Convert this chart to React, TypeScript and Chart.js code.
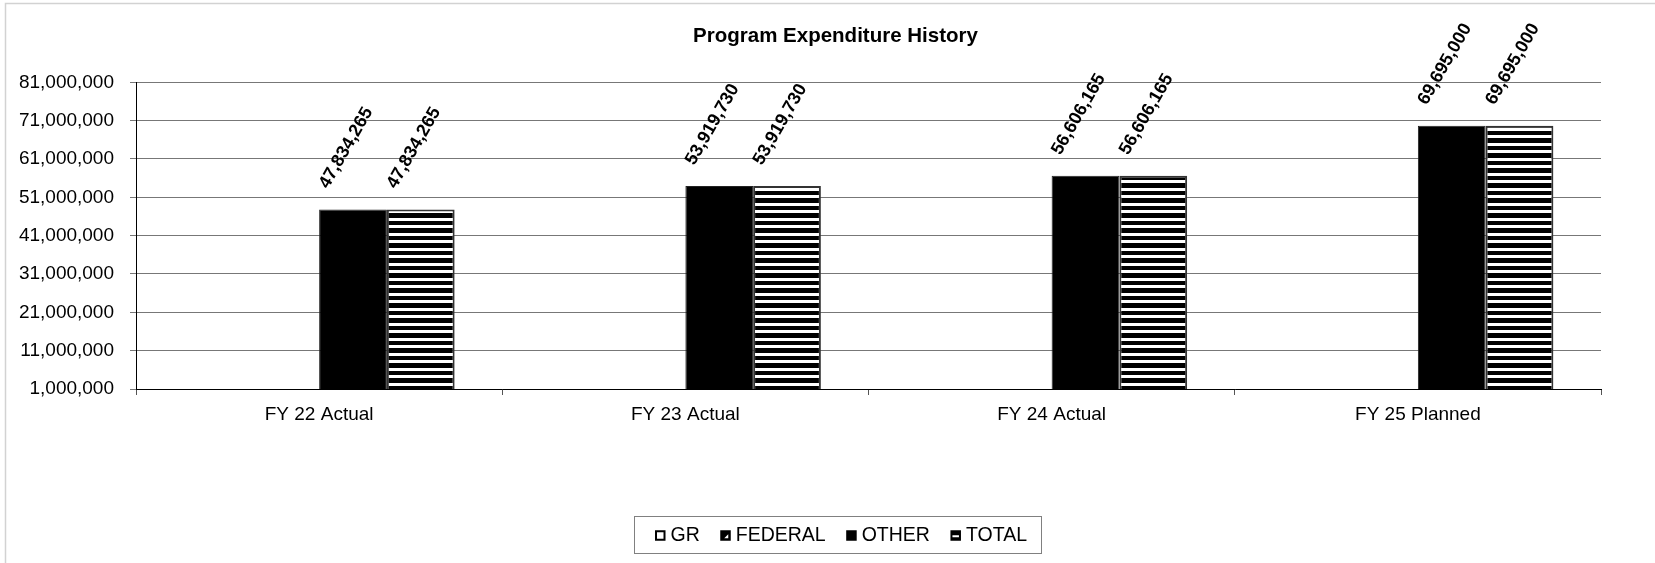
import React, { useEffect, useRef } from 'react';
import { Chart, registerables } from 'chart.js';

Chart.register(...registerables);

// ---- data ----
const categories = ['FY 22 Actual', 'FY 23 Actual', 'FY 24 Actual', 'FY 25 Planned'];
const seriesNames = ['GR', 'FEDERAL', 'OTHER', 'TOTAL'];
const grValues: (number | null)[] = [null, null, null, null];
const federalValues: (number | null)[] = [null, null, null, null];
const otherValues = [47834265, 53919730, 56606165, 69695000];
const totalValues = [47834265, 53919730, 56606165, 69695000];
const yMin = 1000000;
const yMax = 81000000;
const yStep = 10000000;
const chartTitle = 'Program Expenditure History';

const FONT = '"Liberation Sans", Arial, Helvetica, sans-serif';

function makeStripePattern(): CanvasPattern | string {
  const c = document.createElement('canvas');
  c.width = 8;
  c.height = 15;
  const g = c.getContext('2d');
  if (!g) return '#000';
  g.fillStyle = '#000';
  g.fillRect(0, 0, 8, 15);
  g.fillStyle = '#fff';
  g.fillRect(0, 0, 8, 3);
  g.fillRect(0, 8, 8, 3);
  return g.createPattern(c, 'repeat') || '#000';
}

function makeDiagPattern(): CanvasPattern | string {
  const c = document.createElement('canvas');
  c.width = 8;
  c.height = 8;
  const g = c.getContext('2d');
  if (!g) return '#000';
  g.fillStyle = '#000';
  g.fillRect(0, 0, 8, 8);
  g.strokeStyle = '#fff';
  g.lineWidth = 2;
  g.beginPath();
  g.moveTo(0, 8);
  g.lineTo(8, 0);
  g.stroke();
  return g.createPattern(c, 'repeat') || '#000';
}

const fmt = (v: number) => Number(v).toLocaleString('en-US');

const framePlugin = {
  id: 'frame',
  beforeDraw(chart: any) {
    const ctx = chart.ctx as CanvasRenderingContext2D;
    ctx.save();
    ctx.strokeStyle = '#d2d2d2';
    ctx.lineWidth = 1.5;
    ctx.beginPath();
    ctx.moveTo(5.5, chart.height + 2);
    ctx.lineTo(5.5, 3.5);
    ctx.lineTo(chart.width + 2, 3.5);
    ctx.stroke();
    ctx.restore();
  },
};

// shift the title so it is centred where the reference has it
const titleShiftPlugin = {
  id: 'titleShift',
  afterLayout(chart: any) {
    const t = chart.titleBlock;
    if (t) {
      t.left += 32;
      t.right += 32;
    }
  },
};

const valueLabelPlugin = {
  id: 'valueLabels',
  afterDatasetsDraw(chart: any) {
    const ctx = chart.ctx as CanvasRenderingContext2D;
    ctx.save();
    ctx.font = `bold 18px ${FONT}`;
    ctx.fillStyle = '#000';
    ctx.textAlign = 'left';
    ctx.textBaseline = 'alphabetic';
    chart.data.datasets.forEach((ds: any, di: number) => {
      const meta = chart.getDatasetMeta(di);
      meta.data.forEach((el: any, i: number) => {
        const v = ds.data[i];
        if (v === null || v === undefined) return;
        ctx.save();
        ctx.translate(el.x - 25, el.y - 20);
        ctx.rotate((-60 * Math.PI) / 180);
        ctx.fillText(fmt(v), 0, 0);
        ctx.restore();
      });
    });
    ctx.restore();
  },
};

const boxLegendPlugin = {
  id: 'boxLegend',
  afterDraw(chart: any) {
    const ctx = chart.ctx as CanvasRenderingContext2D;
    ctx.save();
    const boxCx = 837.5;
    const boxW = 407;
    const boxTop = 516;
    const boxH = 37;
    ctx.strokeStyle = '#808080';
    ctx.lineWidth = 1;
    ctx.strokeRect(Math.round(boxCx - boxW / 2) + 0.5, boxTop + 0.5, boxW, boxH);

    ctx.font = `19.5px ${FONT}`;
    ctx.fillStyle = '#000';
    ctx.textBaseline = 'middle';
    ctx.textAlign = 'left';
    const sq = 10.5;
    const gap = 5;
    const itemGap = 20.5;
    const labels: string[] = chart.data.datasets.map((d: any) => d.label);
    const widths = labels.map((l) => ctx.measureText(l).width);
    let total = 0;
    widths.forEach((w, i) => {
      total += sq + gap + w + (i < widths.length - 1 ? itemGap : 0);
    });
    let x = boxCx + 3.5 - total / 2;
    const cy = 535.5;
    const top = cy - sq / 2;
    labels.forEach((label, i) => {
      ctx.fillStyle = '#000';
      ctx.fillRect(x, top, sq, sq);
      if (i === 0) {
        ctx.fillStyle = '#fff';
        ctx.fillRect(x + 2, top + 2, sq - 4, sq - 4);
      } else if (i === 1) {
        ctx.fillStyle = '#fff';
        ctx.beginPath();
        ctx.moveTo(x + sq - 2.5, top + 4);
        ctx.lineTo(x + sq - 2.5, top + sq - 2.5);
        ctx.lineTo(x + 4, top + sq - 2.5);
        ctx.closePath();
        ctx.fill();
      } else if (i === 3) {
        ctx.fillStyle = '#fff';
        ctx.fillRect(x + 2, top + 5, sq - 4, 2);
      }
      ctx.fillStyle = '#000';
      ctx.fillText(label, x + sq + gap, cy);
      x += sq + gap + widths[i] + itemGap;
    });
    ctx.restore();
  },
};

export default function App() {
  const ref = useRef<HTMLCanvasElement>(null);

  useEffect(() => {
    if (!ref.current) return;
    Chart.defaults.font.family = FONT;
    const stripe = makeStripePattern();
    const diag = makeDiagPattern();
    const chart = new Chart(ref.current, {
      type: 'bar',
      data: {
        labels: categories,
        datasets: [
          {
            label: seriesNames[0],
            data: grValues,
            backgroundColor: '#fff',
            borderColor: '#000',
            borderWidth: 1,
            categoryPercentage: 0.74,
            barPercentage: 1.0,
          },
          {
            label: seriesNames[1],
            data: federalValues,
            backgroundColor: diag as any,
            borderColor: '#000',
            borderWidth: 1,
            categoryPercentage: 0.74,
            barPercentage: 1.0,
          },
          {
            label: seriesNames[2],
            data: otherValues,
            backgroundColor: '#000',
            borderColor: '#222',
            borderWidth: 1,
            categoryPercentage: 0.74,
            barPercentage: 1.0,
          },
          {
            label: seriesNames[3],
            data: totalValues,
            backgroundColor: stripe as any,
            borderColor: '#333',
            borderWidth: 2,
            categoryPercentage: 0.74,
            barPercentage: 1.0,
          },
        ],
      },
      options: {
        responsive: false,
        animation: false,
        devicePixelRatio: 1,
        layout: { padding: { left: 6, right: 54, top: 0, bottom: 134 } },
        plugins: {
          legend: { display: false },
          tooltip: { enabled: false },
          title: {
            display: true,
            text: chartTitle,
            color: '#000',
            font: { size: 20.5, weight: 'bold', family: FONT },
            padding: { top: 23.7, bottom: 34 },
          },
        },
        scales: {
          x: {
            type: 'category',
            offset: true,
            grid: {
              display: true,
              offset: true,
              drawOnChartArea: false,
              drawTicks: true,
              tickLength: 6,
              color: '#555',
            },
            border: { display: true, color: '#000', width: 1 },
            ticks: {
              color: '#000',
              font: { size: 19, family: FONT },
              padding: 8,
              maxRotation: 0,
              autoSkip: false,
            },
            afterFit: (s: any) => {
              s.height = 40;
            },
          },
          y: {
            type: 'linear',
            min: yMin,
            max: yMax,
            beginAtZero: false,
            ticks: {
              stepSize: yStep,
              color: '#000',
              font: { size: 19, family: FONT },
              padding: 16,
              callback: (v: any) => fmt(Number(v)),
            },
            grid: { color: '#777', tickLength: 6, drawTicks: true },
            border: { display: true, color: '#000', width: 1 },
            afterFit: (s: any) => {
              s.width = 130;
            },
          },
        },
      } as any,
      plugins: [framePlugin, titleShiftPlugin, valueLabelPlugin, boxLegendPlugin],
    });
    return () => chart.destroy();
  }, []);

  return (
    <div
      style={{
        position: 'fixed',
        left: 0,
        top: 0,
        width: 1655,
        height: 563,
        background: '#fff',
      }}
    >
      <canvas
        ref={ref}
        width={1655}
        height={563}
        style={{ display: 'block', width: 1655, height: 563 }}
      />
    </div>
  );
}
